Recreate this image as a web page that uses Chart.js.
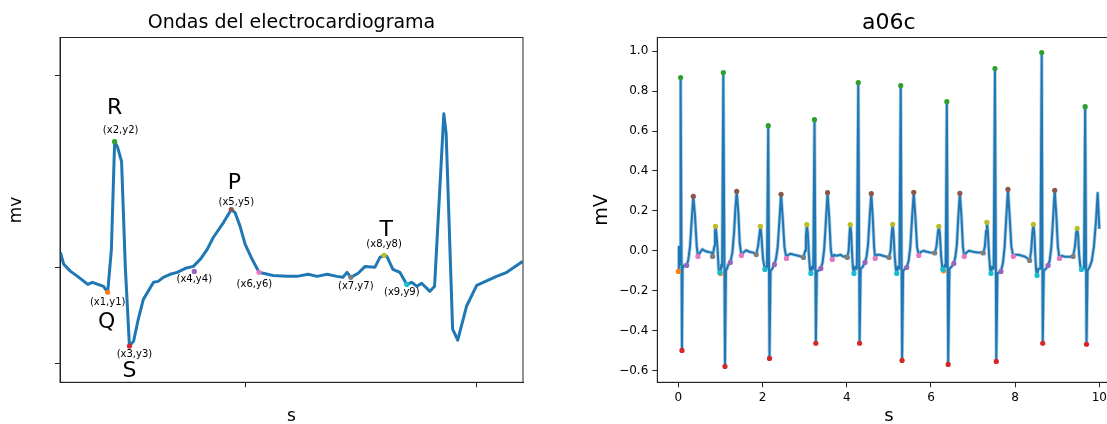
<!DOCTYPE html>
<html lang="es">
<head>
<meta charset="UTF-8">
<title>Ondas del electrocardiograma - a06c</title>
<script src="https://cdn.jsdelivr.net/npm/chart.js@4.4.0/dist/chart.umd.min.js"></script>
<style>
  body { margin: 0; background: #fff; }
  #wrap { position: relative; width: 1107px; height: 424px; overflow: hidden; background: #fff; }
  canvas { position: absolute; top: 0; }
</style>
</head>
<body>
<div id="wrap">
  <canvas id="beatChart" width="553" height="424" style="left:0;width:553px;height:424px"></canvas>
  <canvas id="a06cChart" width="600" height="424" style="left:560px;width:600px;height:424px"></canvas>
</div>
<script>
// ---- left panel: one annotated beat (x in s, y in mv) ----
const beatCurve = [
  [0.101, 0.078], [0.108, 0.016], [0.123, -0.021], [0.138, -0.047], [0.160, -0.089],
  [0.170, -0.078], [0.188, -0.094], [0.194, -0.099], [0.203, -0.130], [0.211, 0.094],
  [0.218, 0.656], [0.224, 0.630], [0.233, 0.552], [0.241, 0.005], [0.250, -0.411],
  [0.259, -0.385], [0.269, -0.271], [0.280, -0.167], [0.302, -0.078], [0.312, -0.073],
  [0.323, -0.052], [0.338, -0.036], [0.353, -0.026], [0.371, -0.005], [0.388, 0.005],
  [0.403, 0.042], [0.418, 0.094], [0.431, 0.156], [0.453, 0.234], [0.470, 0.302],
  [0.478, 0.286], [0.489, 0.214], [0.500, 0.120], [0.515, 0.042], [0.530, -0.026],
  [0.539, -0.031], [0.560, -0.042], [0.591, -0.047], [0.612, -0.047], [0.636, -0.036],
  [0.655, -0.047], [0.677, -0.036], [0.698, -0.047], [0.711, -0.052], [0.720, -0.026],
  [0.728, -0.052], [0.744, -0.031], [0.759, 0.005], [0.780, 0.000], [0.791, 0.052],
  [0.800, 0.063], [0.806, 0.057], [0.819, -0.010], [0.834, -0.026], [0.849, -0.089],
  [0.860, -0.078], [0.871, -0.099], [0.881, -0.083], [0.899, -0.125], [0.909, -0.099],
  [0.929, 0.802], [0.934, 0.698], [0.948, -0.323], [0.959, -0.380], [0.978, -0.203],
  [1.000, -0.094], [1.019, -0.073], [1.043, -0.047], [1.065, -0.026], [1.099, 0.031]
];
const beatMarkX = [0.203, 0.218, 0.250, 0.390, 0.470, 0.530, 0.728, 0.800, 0.849];
const beatMarkY = [-0.130, 0.656, -0.411, -0.021, 0.302, -0.026, -0.052, 0.063, -0.089];
const beatMarkNames = ['(x1,y1)', '(x2,y2)', '(x3,y3)', '(x4,y4)', '(x5,y5)', '(x6,y6)', '(x7,y7)', '(x8,y8)', '(x9,y9)'];
const beatWaveNames = ['Q', 'R', 'S', '', 'P', '', '', 'T', ''];
const beatXTicks = [0.5, 1.0];
const beatYTicks = [-0.5, 0, 1];

// ---- right panel: record a06c (t in s, mV) ----
const a06cSignal = [
  [0.000, -0.103], [0.012, 0.020], [0.025, -0.070], [0.040, -0.060], [0.054, 0.868], [0.086, -0.499],
  [0.100, -0.090], [0.120, -0.076], [0.160, -0.070], [0.197, -0.073], [0.238, -0.043], [0.278, 0.024],
  [0.318, 0.158], [0.355, 0.273], [0.396, 0.174], [0.436, 0.024], [0.466, -0.028], [0.515, -0.009],
  [0.571, 0.008], [0.634, -0.001], [0.713, -0.006], [0.793, -0.009], [0.813, -0.028], [0.856, 0.024],
  [0.870, 0.090], [0.882, 0.123], [0.903, 0.091], [0.927, 0.024], [0.958, -0.093], [0.985, -0.109],
  [1.000, -0.114], [1.020, -0.070], [1.040, -0.080], [1.068, 0.893], [1.108, -0.579], [1.130, -0.090],
  [1.150, -0.093], [1.188, -0.068], [1.235, -0.058], [1.283, -0.009], [1.323, 0.091], [1.354, 0.208],
  [1.386, 0.298], [1.426, 0.190], [1.457, 0.041], [1.497, -0.023], [1.544, -0.009], [1.607, 0.003],
  [1.703, -0.006], [1.782, -0.009], [1.850, -0.019], [1.893, 0.024], [1.950, 0.123], [1.973, 0.074],
  [2.012, -0.043], [2.056, -0.093],
  [2.080, -0.080], [2.105, -0.085], [2.135, 0.627], [2.165, -0.539], [2.190, -0.100], [2.230, -0.090],
  [2.282, -0.068], [2.320, -0.040], [2.360, 0.020], [2.400, 0.150], [2.440, 0.283], [2.480, 0.160],
  [2.520, 0.020], [2.567, -0.038], [2.610, -0.020], [2.660, -0.015], [2.750, -0.020], [2.850, -0.025],
  [2.930, -0.030], [2.972, -0.033], [3.010, 0.000], [3.030, 0.070], [3.052, 0.131], [3.075, 0.090],
  [3.100, -0.020], [3.125, -0.090], [3.147, -0.113],
  [3.175, -0.080], [3.205, -0.090], [3.234, 0.657], [3.266, -0.463], [3.290, -0.100], [3.330, -0.100],
  [3.385, -0.088], [3.425, -0.060], [3.465, 0.010], [3.505, 0.150], [3.544, 0.292], [3.585, 0.160],
  [3.620, 0.010], [3.655, -0.043], [3.700, -0.020], [3.760, -0.025], [3.850, -0.020], [3.930, -0.030],
  [3.980, -0.025], [4.012, -0.033], [4.045, 0.000], [4.065, 0.080], [4.083, 0.131], [4.105, 0.090],
  [4.130, -0.030], [4.150, -0.090], [4.171, -0.113],
  [4.200, -0.080], [4.240, -0.090], [4.274, 0.843], [4.305, -0.463], [4.330, -0.090], [4.380, -0.080],
  [4.433, -0.058], [4.470, -0.030], [4.505, 0.030], [4.545, 0.170], [4.583, 0.287], [4.620, 0.160],
  [4.650, 0.020], [4.675, -0.038], [4.720, -0.020], [4.780, -0.020], [4.860, -0.025], [4.940, -0.030],
  [5.004, -0.033], [5.040, 0.000], [5.070, 0.090], [5.091, 0.133], [5.110, 0.090], [5.140, -0.030],
  [5.165, -0.090], [5.186, -0.113],
  [5.210, -0.080], [5.250, -0.090], [5.282, 0.828], [5.314, -0.549], [5.340, -0.100], [5.380, -0.090],
  [5.425, -0.083], [5.470, -0.050], [5.510, 0.020], [5.550, 0.160], [5.591, 0.293], [5.630, 0.170],
  [5.670, 0.020], [5.710, -0.023], [5.760, -0.005], [5.820, 0.000], [5.900, -0.005], [5.980, -0.008],
  [6.050, -0.010], [6.091, -0.011], [6.130, 0.020], [6.165, 0.090], [6.187, 0.123], [6.210, 0.090],
  [6.240, -0.020], [6.265, -0.080], [6.282, -0.093],
  [6.300, -0.100], [6.330, -0.070], [6.350, -0.080], [6.377, 0.747], [6.409, -0.569], [6.440, -0.090],
  [6.490, -0.080], [6.544, -0.063], [6.580, -0.030], [6.615, 0.030], [6.650, 0.170], [6.687, 0.288],
  [6.725, 0.170], [6.760, 0.020], [6.790, -0.028], [6.840, -0.010], [6.900, 0.000], [7.000, -0.005],
  [7.100, -0.008], [7.200, -0.008], [7.242, -0.011], [7.280, 0.020], [7.310, 0.100], [7.329, 0.143],
  [7.350, 0.100], [7.380, -0.020], [7.405, -0.090], [7.425, -0.113],
  [7.450, -0.080], [7.490, -0.090], [7.520, 0.913], [7.552, -0.554], [7.580, -0.110], [7.620, -0.110],
  [7.663, -0.103], [7.710, -0.060], [7.750, 0.020], [7.790, 0.170], [7.829, 0.308], [7.870, 0.170],
  [7.910, 0.020], [7.956, -0.028], [8.000, -0.020], [8.080, -0.020], [8.160, -0.025], [8.240, -0.030],
  [8.300, -0.040], [8.345, -0.048], [8.380, 0.000], [8.410, 0.090], [8.433, 0.133], [8.455, 0.090],
  [8.480, -0.030], [8.500, -0.100], [8.520, -0.123],
  [8.550, -0.090], [8.600, -0.090], [8.631, 0.993], [8.655, -0.463], [8.680, -0.100], [8.730, -0.090],
  [8.782, -0.073], [8.820, -0.050], [8.860, 0.020], [8.900, 0.160], [8.940, 0.303], [8.980, 0.170],
  [9.015, 0.020], [9.052, -0.038], [9.100, -0.025], [9.180, -0.030], [9.260, -0.030], [9.330, -0.030],
  [9.377, -0.028], [9.420, 0.020], [9.450, 0.090], [9.472, 0.113], [9.495, 0.080], [9.520, -0.020],
  [9.550, -0.080], [9.575, -0.093],
  [9.600, -0.090], [9.635, -0.090], [9.663, 0.722], [9.695, -0.468], [9.720, -0.100], [9.770, -0.080],
  [9.820, -0.050], [9.870, 0.020], [9.920, 0.150], [9.960, 0.290], [10.000, 0.110]
];
const qPoints  = [[0.000, -0.103], [0.998, -0.114], [6.300, -0.100]];
const rPoints  = [[0.054, 0.868], [1.068, 0.893], [2.135, 0.627], [3.234, 0.657], [4.274, 0.843],
                  [5.282, 0.828], [6.377, 0.747], [7.520, 0.913], [8.631, 0.993], [9.663, 0.722]];
const sPoints  = [[0.086, -0.499], [1.108, -0.579], [2.165, -0.539], [3.266, -0.463], [4.305, -0.463],
                  [5.314, -0.549], [6.409, -0.569], [7.552, -0.554], [8.655, -0.463], [9.695, -0.468]];
const x4Points = [[0.197, -0.073], [1.235, -0.058], [2.282, -0.068], [3.385, -0.088], [4.433, -0.058],
                  [5.425, -0.083], [6.544, -0.063], [7.663, -0.103], [8.782, -0.073]];
const pPoints  = [[0.355, 0.273], [1.386, 0.298], [2.440, 0.283], [3.544, 0.292], [4.583, 0.287],
                  [5.591, 0.293], [6.687, 0.288], [7.829, 0.308], [8.940, 0.303]];
const x6Points = [[0.466, -0.028], [1.497, -0.023], [2.567, -0.038], [3.655, -0.043], [4.675, -0.038],
                  [5.710, -0.023], [6.790, -0.028], [7.956, -0.028], [9.052, -0.038]];
const x7Points = [[0.813, -0.028], [1.850, -0.019], [2.972, -0.033], [4.012, -0.033], [5.004, -0.033],
                  [6.091, -0.011], [7.242, -0.011], [8.345, -0.048], [9.377, -0.028]];
const tPoints  = [[0.882, 0.123], [1.950, 0.123], [3.052, 0.131], [4.083, 0.131], [5.091, 0.133],
                  [6.187, 0.123], [7.329, 0.143], [8.433, 0.133], [9.472, 0.113]];
const x9Points = [[0.985, -0.109], [2.056, -0.093], [3.147, -0.113], [4.171, -0.113], [5.186, -0.113],
                  [6.282, -0.093], [7.425, -0.113], [8.520, -0.123], [9.575, -0.093]];
const a06cXTicks = [0, 2, 4, 6, 8, 10];
const a06cYTicks = [-0.6, -0.4, -0.2, 0, 0.2, 0.4, 0.6, 0.8, 1.0];

// matplotlib tab10, C1..C9
const markColors = ['#ff7f0e', '#2ca02c', '#d62728', '#9467bd', '#8c564b', '#e377c2', '#7f7f7f', '#bcbd22', '#17becf'];
const lineBlue = '#1f77b4';
const spine = '#262626';

Chart.defaults.font.family = '"DejaVu Sans", sans-serif';
Chart.defaults.color = '#000';

const toXY = pairs => pairs.map(p => ({x: p[0], y: p[1]}));

// full box round the axes, like matplotlib spines
const frame = {
  id: 'frame',
  afterDraw(chart) {
    const a = chart.chartArea, ctx = chart.ctx;
    ctx.save();
    ctx.strokeStyle = spine;
    ctx.lineWidth = 1;
    ctx.strokeRect(a.left, a.top, a.right - a.left, a.bottom - a.top);
    ctx.restore();
  }
};

// text next to the nine marked points of the left panel
// [label dx, label dy, letter dx, letter dy] in pixels
const labelOffsets = [[0, 9.7, -1, 30], [6, -11.3, 0, -33.7], [5, 8.7, 0, 24.7], [0, 8, 0, 0], [5, -7.3, 3, -26],
                      [-4.7, 12, 0, 0], [5, 9.3, 0, 0], [0, -11, 2, -25.3], [-5, 8.3, 0, 0]];
const beatLabels = {
  id: 'beatLabels',
  afterDatasetsDraw(chart) {
    const {ctx, scales: {x, y}} = chart;
    ctx.save();
    ctx.textAlign = 'center';
    ctx.textBaseline = 'middle';
    ctx.fillStyle = '#000';
    beatMarkNames.forEach((name, i) => {
      const px = x.getPixelForValue(beatMarkX[i]);
      const py = y.getPixelForValue(beatMarkY[i]);
      const o = labelOffsets[i];
      ctx.font = '10px "DejaVu Sans"';
      ctx.fillText(name, px + o[0], py + o[1]);
      if (beatWaveNames[i]) {
        ctx.font = '22px "DejaVu Sans"';
        ctx.fillText(beatWaveNames[i], px + o[2], py + o[3]);
      }
    });
    ctx.restore();
  }
};

function axisBase(extra) {
  return Object.assign({
    type: 'linear',
    grid: {drawOnChartArea: false, tickLength: 5, tickColor: spine, tickWidth: 1},
    border: {color: spine, width: 1}
  }, extra);
}

function markerSet(pointsList, colorIdx) {
  return {
    data: toXY(pointsList),
    backgroundColor: markColors[colorIdx],
    borderWidth: 0,
    pointRadius: 2.6,
    showLine: false,
    order: 9 - colorIdx
  };
}

// ---- left chart ----
const beatMarkers = beatMarkX.map((bx, i) => markerSet([[bx, beatMarkY[i]]], i));

new Chart(document.getElementById('beatChart'), {
  type: 'scatter',
  data: {
    datasets: [{
      data: toXY(beatCurve),
      showLine: true,
      borderColor: lineBlue,
      borderWidth: 3,
      borderJoinStyle: 'round',
      pointRadius: 0,
      order: 100
    }].concat(beatMarkers)
  },
  options: {
    responsive: false,
    animation: false,
    events: [],
    layout: {padding: {left: 0, top: 0, right: 30, bottom: 0}},
    plugins: {
      legend: {display: false},
      tooltip: {enabled: false},
      title: {
        display: true, text: 'Ondas del electrocardiograma', fullSize: false,
        color: '#000', font: {size: 19, weight: 'normal', lineHeight: 1.2},
        padding: {top: 12, bottom: 2.7}
      }
    },
    scales: {
      x: axisBase({
        min: 0.1, max: 1.1,
        afterFit: s => { s.height = 41.7; },
        afterBuildTicks: s => { s.ticks = beatXTicks.map(v => ({value: v})); },
        ticks: {callback: () => ''},
        title: {display: true, text: 's', color: '#000', font: {size: 17, lineHeight: 0.86}, padding: 0}
      }),
      y: axisBase({
        min: -0.6, max: 1.2,
        afterFit: s => { s.width = 60; },
        afterBuildTicks: s => { s.ticks = beatYTicks.map(v => ({value: v})); },
        ticks: {callback: () => ''},
        title: {display: true, text: 'mv', color: '#000', font: {size: 17, lineHeight: 1.2}, padding: {top: 6.3, bottom: 0}}
      })
    }
  },
  plugins: [frame, beatLabels]
});

// ---- right chart ----
const a06cMarkers = [qPoints, rPoints, sPoints, x4Points, pPoints, x6Points, x7Points, tPoints, x9Points]
  .map((pts, i) => markerSet(pts, i));

new Chart(document.getElementById('a06cChart'), {
  type: 'scatter',
  data: {
    datasets: [{
      data: toXY(a06cSignal),
      showLine: true,
      borderColor: 'rgba(31,119,180,0.35)',
      borderWidth: 3.6,
      borderJoinStyle: 'round',
      pointRadius: 0,
      order: 101
    }, {
      data: toXY(a06cSignal),
      showLine: true,
      borderColor: lineBlue,
      borderWidth: 2,
      borderJoinStyle: 'round',
      pointRadius: 0,
      order: 100
    }].concat(a06cMarkers)
  },
  options: {
    responsive: false,
    animation: false,
    events: [],
    layout: {padding: {left: 0, top: 0, right: 39.6, bottom: 0}},
    plugins: {
      legend: {display: false},
      tooltip: {enabled: false},
      title: {
        display: true, text: 'a06c', fullSize: false,
        color: '#000', font: {size: 22, weight: 'normal', lineHeight: 1.2},
        padding: {top: 10.2, bottom: 0.9}
      }
    },
    scales: {
      x: axisBase({
        min: -0.5, max: 10.5,
        afterFit: s => { s.height = 41.7; },
        afterBuildTicks: s => { s.ticks = a06cXTicks.map(v => ({value: v})); },
        ticks: {font: {size: 12}, padding: 3, maxRotation: 0, autoSkip: false, callback: v => String(v)},
        title: {display: true, text: 's', color: '#000', font: {size: 18, lineHeight: 0.8}, padding: 0}
      }),
      y: axisBase({
        min: -0.6585, max: 1.0685,
        afterFit: s => { s.width = 97.3; },
        afterBuildTicks: s => { s.ticks = a06cYTicks.map(v => ({value: v})); },
        ticks: {font: {size: 12}, padding: 4, autoSkip: false, callback: v => v.toFixed(1).replace('-', '\u2212')},
        title: {display: true, text: 'mV', color: '#000', font: {size: 19, lineHeight: 1.2}, padding: {top: 31.1, bottom: 0}}
      })
    }
  },
  plugins: [frame]
});
</script>
</body>
</html>
